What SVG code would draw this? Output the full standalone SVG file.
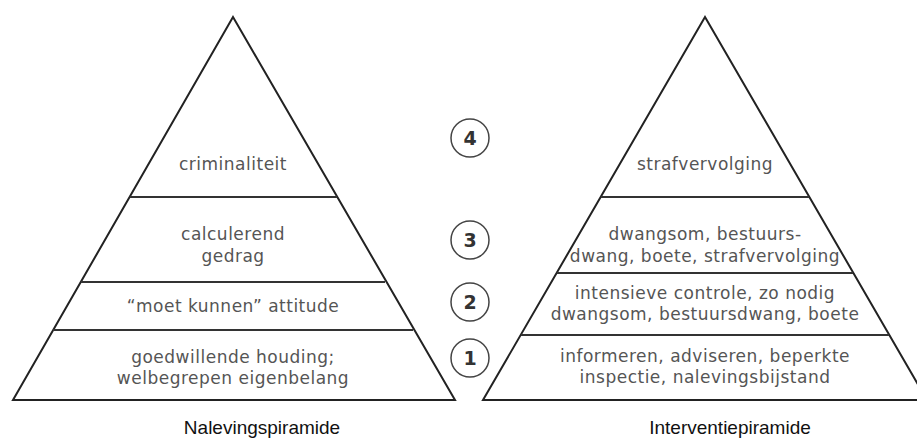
<svg xmlns="http://www.w3.org/2000/svg" width="917" height="440" viewBox="0 0 917 440">
<style>
.outline{fill:none;stroke:#222;stroke-width:2;stroke-linejoin:miter}
.div{stroke:#333;stroke-width:2}
.lbl{font-family:"DejaVu Sans",sans-serif;font-size:17px;letter-spacing:0.5px;fill:#555;text-anchor:middle}
.num{font-family:"DejaVu Sans",sans-serif;font-size:19px;font-weight:bold;fill:#333;text-anchor:middle}
.ring{fill:#fff;stroke:#444;stroke-width:1.5}
.cap{font-family:"Liberation Sans",Arial,sans-serif;font-size:19px;fill:#111;text-anchor:middle}
</style>
<rect width="917" height="440" fill="#fff"/>
<g id="naleving-pyramid">
  <polygon class="outline" points="233,17 13,400 455,400"/>
  <line class="div" x1="130" y1="197" x2="337" y2="197"/>
  <line class="div" x1="81" y1="282" x2="385" y2="282"/>
  <line class="div" x1="53" y1="330" x2="413" y2="330"/>
</g>
<g id="n4"><text class="lbl" x="233" y="170">criminaliteit</text></g>
<g id="n3"><text class="lbl" x="233" y="240">calculerend</text><text class="lbl" x="233" y="262">gedrag</text></g>
<g id="n2"><text class="lbl" x="233" y="312">“moet kunnen” attitude</text></g>
<g id="n1"><text class="lbl" x="233" y="363">goedwillende houding;</text><text class="lbl" x="233" y="384">welbegrepen eigenbelang</text></g>
<g id="interventie-pyramid">
  <polygon class="outline" points="705,17 483,400 927,400"/>
  <line class="div" x1="601" y1="197" x2="809" y2="197"/>
  <line class="div" x1="557" y1="273" x2="853" y2="273"/>
  <line class="div" x1="521" y1="335" x2="889" y2="335"/>
</g>
<g id="i4"><text class="lbl" x="705" y="170">strafvervolging</text></g>
<g id="i3"><text class="lbl" x="705" y="240">dwangsom, bestuurs-</text><text class="lbl" x="705" y="262">dwang, boete, strafvervolging</text></g>
<g id="i2"><text class="lbl" x="705" y="299">intensieve controle, zo nodig</text><text class="lbl" x="705" y="320">dwangsom, bestuursdwang, boete</text></g>
<g id="i1"><text class="lbl" x="705" y="362">informeren, adviseren, beperkte</text><text class="lbl" x="705" y="383">inspectie, nalevingsbijstand</text></g>
<g id="level4"><circle class="ring" cx="470" cy="138" r="19"/><text class="num" x="470" y="145">4</text></g>
<g id="level3"><circle class="ring" cx="470" cy="240" r="19"/><text class="num" x="470" y="247">3</text></g>
<g id="level2"><circle class="ring" cx="470" cy="302" r="19"/><text class="num" x="470" y="309">2</text></g>
<g id="level1"><circle class="ring" cx="470" cy="358" r="19"/><text class="num" x="470" y="365">1</text></g>
<g id="captions">
  <text class="cap" x="262" y="434">Nalevingspiramide</text>
  <text class="cap" x="730" y="434">Interventiepiramide</text>
</g>
<g id="connectors"></g>
</svg>
